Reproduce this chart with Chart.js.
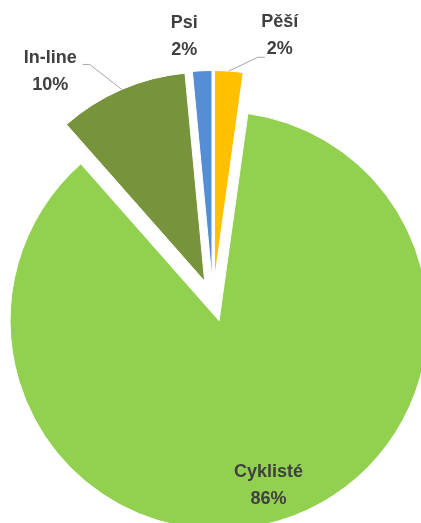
<!DOCTYPE html>
<html>
<head>
<meta charset="utf-8">
<script src="https://cdn.jsdelivr.net/npm/chart.js@4.4.1/dist/chart.umd.min.js"></script>
<style>
  html, body { margin: 0; padding: 0; background: #fff; }
  #wrap { width: 421px; height: 523px; position: relative; }
</style>
</head>
<body>
<div id="wrap"><canvas id="pieChart"></canvas></div>
<script>
// data (share of users, %)
const categories = ['Pěší', 'Cyklisté', 'In-line', 'Psi'];
const shares = [2.2, 86.3, 10.0, 1.5];
const sliceColors = ['#FFC000', '#92D050', '#77933C', '#558ED5'];

// label placement: angle shift from slice bisector (deg), distance from pie centre (px)
const labelShift = [10.2, 0, -12, -3.5];
const labelDist = [273, 172, 281, 266];
// leader line elbow / end relative to label centre, null = no leader
const leaders = [
    { elbow: [-22, 21.5], end: [-15, 21.5] },
    null,
    { elbow: [39.5, -7], end: [32.5, -7] },
    null
];

const explode = 21;     // px each slice is pulled out
const pieRadius = 209;
const total = shares.reduce((a, b) => a + b, 0);

// Chart.js moves an arc by offset/4 but also grows its radius by offset/4 * fix
// and trims its angle; undo both so the slices keep their true size
const evenSlices = {
    id: 'evenSlices',
    afterDatasetUpdate(chart) {
        chart.getDatasetMeta(0).data.forEach(arc => {
            const fix = 1 - Math.sin(Math.min(Math.PI, arc.circumference));
            const grow = explode * fix;
            arc.outerRadius = pieRadius - grow;
            const trim = grow / Math.PI / pieRadius;
            arc.startAngle -= trim / 2;
            arc.endAngle += trim / 2;
        });
    }
};

const pieLabels = {
    id: 'pieLabels',
    afterDatasetsDraw(chart) {
        const ctx = chart.ctx;
        const arcs = chart.getDatasetMeta(0).data;
        ctx.save();
        ctx.font = 'bold 18px "Liberation Sans", Arial, sans-serif';
        ctx.fillStyle = '#404040';
        ctx.textAlign = 'center';
        ctx.textBaseline = 'middle';
        arcs.forEach((arc, i) => {
            const mid = (arc.startAngle + arc.endAngle) / 2;
            const ang = mid + labelShift[i] * Math.PI / 180;
            const ax = arc.x + Math.cos(mid) * explode;
            const ay = arc.y + Math.sin(mid) * explode;
            let lx, ly;
            if (i === 1) {
                // inside label, measured from the exploded slice's apex
                lx = ax + Math.cos(ang) * labelDist[i];
                ly = ay + Math.sin(ang) * labelDist[i];
            } else {
                lx = arc.x + Math.cos(ang) * labelDist[i];
                ly = arc.y + Math.sin(ang) * labelDist[i];
            }
            const pct = Math.round(shares[i] / total * 100) + '%';
            ctx.fillText(categories[i], lx, ly - 13.5);
            ctx.fillText(pct, lx, ly + 13.5);

            const ld = leaders[i];
            if (ld) {
                const sx = ax + Math.cos(mid) * pieRadius;
                const sy = ay + Math.sin(mid) * pieRadius;
                ctx.beginPath();
                ctx.strokeStyle = '#A6A6A6';
                ctx.lineWidth = 1;
                ctx.moveTo(sx, sy);
                ctx.lineTo(lx + ld.elbow[0], ly + ld.elbow[1]);
                ctx.lineTo(lx + ld.end[0], ly + ld.end[1]);
                ctx.stroke();
            }
        });
        ctx.restore();
    }
};

const ctx = document.getElementById('pieChart').getContext('2d');

new Chart(ctx, {
    type: 'pie',
    data: {
        labels: categories,
        datasets: [{
            data: shares,
            backgroundColor: sliceColors,
            borderColor: '#fff',
            borderWidth: 1,
            offset: explode * 4,
            hoverOffset: 0,
            clip: false
        }]
    },
    options: {
        responsive: true,
        maintainAspectRatio: false,
        animation: false,
        radius: pieRadius,
        layout: { padding: { left: 5, right: 0, top: 78, bottom: 0 } },
        plugins: {
            legend: { display: false },
            tooltip: { enabled: false }
        }
    },
    plugins: [evenSlices, pieLabels]
});
</script>
</body>
</html>
